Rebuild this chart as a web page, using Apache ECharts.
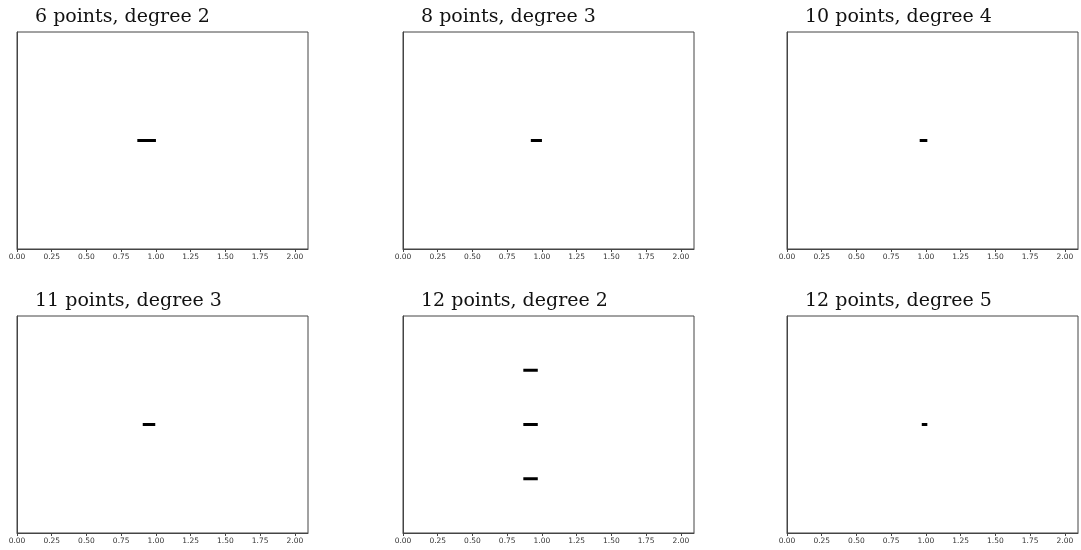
<!DOCTYPE html>
<html><head><meta charset="utf-8">
<script src="https://cdn.jsdelivr.net/npm/echarts@6/dist/echarts.min.js"></script>
<style>html,body{margin:0;padding:0;background:#fff}#c{width:1081px;height:550px}</style>
</head><body><div id="c"></div>
<script>
var titles = ['6 points, degree 2','8 points, degree 3','10 points, degree 4','11 points, degree 3','12 points, degree 2','12 points, degree 5'];
var xTicks = [0,0.25,0.5,0.75,1.0,1.25,1.5,1.75,2.0];
// segments per panel: [xStart, xEnd, y]
var seg1 = [[0.866,1.0,0]];
var seg2 = [[0.92,1.0,0]];
var seg3 = [[0.955,1.01,0]];
var seg4 = [[0.905,0.995,0]];
var seg5 = [[0.866,0.97,0.5],[0.866,0.97,0],[0.866,0.97,-0.5]];
var seg6 = [[0.97,1.01,0]];
var segments = [seg1,seg2,seg3,seg4,seg5,seg6];

var lefts = [17,403,787], tops = [32,316], W = 291, H = 217;
var xMax = 2*Math.PI/3;
var grids=[],xAxes=[],yAxes=[],series=[],titleOpts=[];
for (var i=0;i<6;i++){
  var c=i%3, r=Math.floor(i/3);
  grids.push({left:lefts[c],top:tops[r],width:W,height:H,show:true,borderColor:'#444',borderWidth:1,backgroundColor:'transparent'});
  xAxes.push({gridIndex:i,type:'value',min:0,max:xMax,interval:0.25,position:'bottom',
    axisLine:{show:true,onZero:false,lineStyle:{color:'#444'}},
    axisTick:{show:true,length:3,lineStyle:{color:'#444'}},
    axisLabel:{fontSize:7.5,color:'#333',fontFamily:'DejaVu Sans',margin:4,showMaxLabel:false,
      formatter:function(v){return xTicks.indexOf(Math.round(v*100)/100)>=0? v.toFixed(2):'';}},
    splitLine:{show:false}});
  yAxes.push({gridIndex:i,type:'value',min:-1,max:1,axisLine:{show:true,onZero:false,lineStyle:{color:'#444'}},axisTick:{show:false},axisLabel:{show:false},splitLine:{show:false}});
  titleOpts.push({text:titles[i],left:lefts[c]+18,top:tops[r]-24,padding:0,textStyle:{fontFamily:'DejaVu Serif',fontWeight:'normal',fontSize:19,color:'#111'}});
  segments[i].forEach(function(s){
    series.push({type:'line',xAxisIndex:i,yAxisIndex:i,data:[[s[0],s[2]],[s[1],s[2]]],symbol:'none',
      lineStyle:{color:'#000',width:3},silent:true,animation:false});
  });
}
var chart = echarts.init(document.getElementById('c'));
chart.setOption({animation:false,title:titleOpts,grid:grids,xAxis:xAxes,yAxis:yAxes,series:series});
</script></body></html>
